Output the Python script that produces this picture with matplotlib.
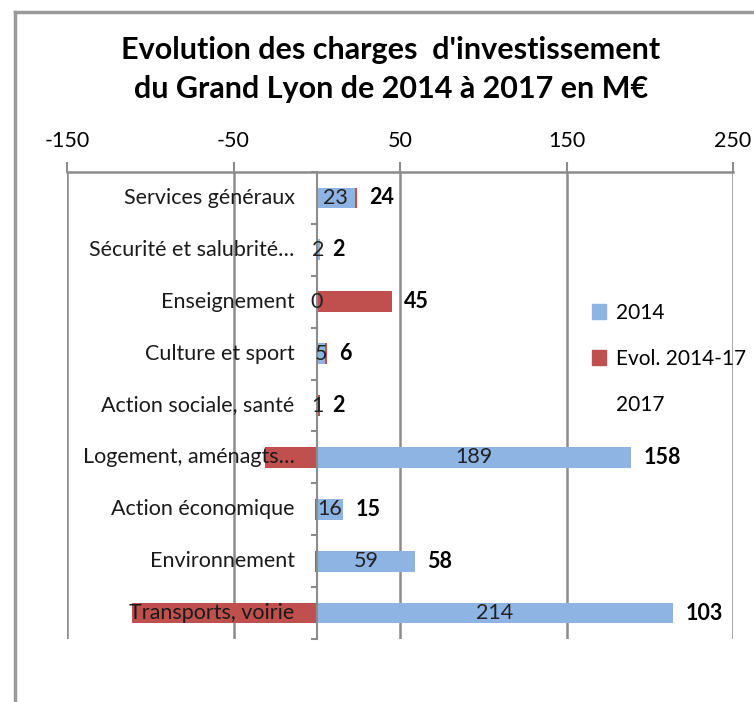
#!/usr/bin/env python3
"""
Evolution des charges d'investissement du Grand Lyon 2014-2017
"""

import matplotlib.pyplot as plt
from matplotlib.lines import Line2D
from matplotlib.patches import Patch

categories = ['Services généraux', 'Sécurité et salubrité…', 'Enseignement',
              'Culture et sport', 'Action sociale, santé', 'Logement, aménagts…',
              'Action économique', 'Environnement', 'Transports, voirie']
val_2014 = [23, 2, 0, 5, 1, 189, 16, 59, 214]
val_2017 = [24, 2, 45, 6, 2, 158, 15, 58, 103]
evol = [b - a for a, b in zip(val_2014, val_2017)]

x_ticks = [-150, -50, 50, 150, 250]

BLUE = '#8DB4E2'
RED = '#C0504D'
GRID = '#8C8C8C'

plt.rcParams['font.family'] = ['Lato', 'DejaVu Sans']

fig = plt.figure(figsize=(7.54, 7.02), dpi=100)
ax = fig.add_axes([67 / 754, 1 - 639 / 702, 666 / 754, 467 / 702])

n = len(categories)
ypos = list(range(n))

# blue 2014 bars, red evolution stacked (negative goes left from 0)
left_red = [a if e >= 0 else 0 for a, e in zip(val_2014, evol)]
ax.barh(ypos, val_2014, height=0.4, color=BLUE, zorder=3)
ax.barh(ypos, evol, left=left_red, height=0.4, color=RED, zorder=3)

for i in ypos:
    ax.text(val_2014[i] / 2, i, str(val_2014[i]), ha='center', va='center',
            fontsize=15.5, color='#222222', zorder=5)
    end = max(val_2014[i] + max(evol[i], 0), 0)
    ax.annotate(str(val_2017[i]), (end, i), xytext=(9, 0), textcoords='offset points',
                ha='left', va='center', fontsize=15.5, fontweight='bold', zorder=5)
    ax.annotate(categories[i], (0, i), xytext=(-16, 0), textcoords='offset points',
                ha='right', va='center', fontsize=15.5, color='#1a1a1a', zorder=6)

ax.set_xlim(-150, 250)
ax.set_ylim(n - 0.5, -0.5)
ax.xaxis.tick_top()
ax.set_xticks(x_ticks)
ax.set_xticklabels([str(t) for t in x_ticks], fontsize=15.5)
ax.tick_params(axis='x', length=7, width=1.5, color=GRID, pad=8)
ax.set_yticks([])
for t in [i + 0.5 for i in range(-1, n)]:
    ax.plot([-3, 0], [t, t], color=GRID, lw=1.5, zorder=4, clip_on=False)
ax.axvline(0, color=GRID, lw=1.5, zorder=4)

ax.grid(True, axis='x', color=GRID, lw=1.8, zorder=1)
for s in ['left', 'right', 'bottom']:
    ax.spines[s].set_visible(False)
ax.spines['top'].set_color(GRID)
ax.spines['top'].set_linewidth(1.8)

handles = [Patch(color=BLUE, label='2014'),
           Patch(color=RED, label='Evol. 2014-17'),
           Line2D([], [], color='none', label='2017')]
ax.legend(handles=handles, loc='center left', bbox_to_anchor=(0.76, 0.6),
          frameon=False, fontsize=15, handlelength=0.7, handleheight=0.7,
          handletextpad=0.45, labelspacing=1.25)

fig.text(391 / 754, 1 - 50 / 702, "Evolution des charges  d'investissement",
         ha='center', va='center', fontsize=22, fontweight='bold')
fig.text(391 / 754, 1 - 89 / 702, "du Grand Lyon de 2014 à 2017 en M€",
         ha='center', va='center', fontsize=22, fontweight='bold')

# outer chart frame (left and top edges visible)
fig.add_artist(Line2D([15 / 754, 15 / 754], [0, 1 - 12 / 702], color='#999999', lw=2.5))
fig.add_artist(Line2D([15 / 754, 1], [1 - 12 / 702, 1 - 12 / 702], color='#999999', lw=2.5))

fig.savefig('out.png', dpi=100)
